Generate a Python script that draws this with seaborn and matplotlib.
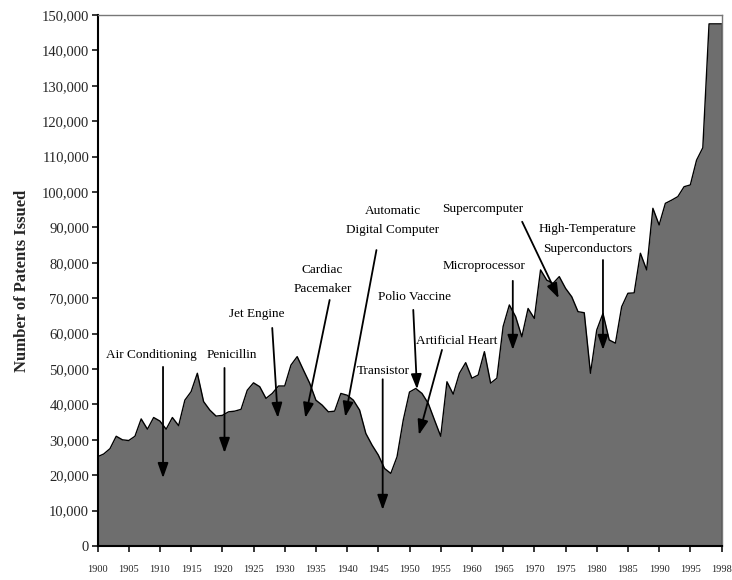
import matplotlib
matplotlib.use("Agg")
import matplotlib.pyplot as plt
import seaborn as sns
from matplotlib.ticker import StrMethodFormatter

# Patents issued per year
years = list(range(1900, 2001))
patents = [
    25200, 26000, 27500, 31000, 30000, 29800, 31000, 35900, 33000, 36300,
    35300, 33000, 36300, 34000, 41200, 43600, 48800, 40800, 38400, 36700,
    36900, 37900, 38100, 38600, 44000, 46100, 45000, 41700, 43100, 45200,
    45200, 51100, 53500, 49700, 46000, 41200, 39800, 37900, 38100, 43100,
    42600, 41200, 38400, 31800, 28500, 25700, 21900, 20500, 25200, 35600,
    43500, 44500, 43100, 40300, 35600, 31000, 46400, 42900, 48800, 51800,
    47400, 48300, 54900, 46000, 47400, 62000, 68100, 64800, 59100, 67100,
    64300, 78000, 75100, 74200, 76100, 72800, 70400, 66200, 65900, 48800,
    61000, 65700, 58200, 57300, 67600, 71400, 71500, 82700, 78000, 95400,
    90700, 96800, 97700, 98700, 101500, 102000, 109000, 112500, 147500, 147500,
    147500,
]

tick_years = list(range(1900, 2001, 5))
tick_labels = [str(y) for y in range(1900, 1996, 5)] + ["1998"]

# inventions: label, text position, arrow start, arrow tip
inventions = [
    ("Air Conditioning", (1908.65, 53950), (1910.5, 50600), (1910.5, 19200)),
    ("Penicillin", (1921.6, 54000), (1920.35, 50300), (1920.35, 26300)),
    ("Jet Engine", (1925.5, 65500), (1928.0, 61600), (1928.9, 36200)),
    ("Cardiac\nPacemaker", (1936.05, 75400), (1937.2, 69500), (1933.3, 36200)),
    ("Automatic\nDigital Computer", (1947.3, 91900), (1944.7, 83600), (1939.7, 36500)),
    ("Transistor", (1945.8, 49400), (1945.7, 47100), (1945.7, 10200)),
    ("Polio Vaccine", (1950.8, 70300), (1950.6, 66700), (1951.2, 44300)),
    ("Artificial Heart", (1957.5, 57800), (1955.2, 55400), (1951.5, 31400)),
    ("Microprocessor", (1962.0, 79100), (1966.55, 74900), (1966.55, 55400)),
    ("Supercomputer", (1961.7, 95200), (1968.05, 91600), (1973.9, 70000)),
    ("High-Temperature\nSuperconductors", (1978.5, 86700), (1981.0, 80800), (1981.0, 55400)),
]

sns.set_style("ticks")
plt.rcParams['font.family'] = ['Liberation Serif', 'DejaVu Serif']

fig = plt.figure(figsize=(7.32, 5.8), dpi=100)
ax = fig.add_axes([0.1332, 0.0586, 0.8525, 0.9155])

ax.fill_between(years, patents, color='#6e6e6e', lw=0)
sns.lineplot(x=years, y=patents, ax=ax, color='black', lw=1.0)
ax.vlines(years[-1], 0, patents[-1], color='black', lw=1.0)

ax.set_xlim(1900, 2000)
ax.set_ylim(0, 150000)
ax.set_yticks(range(0, 150001, 10000))
ax.yaxis.set_major_formatter(StrMethodFormatter('{x:,.0f}'))
ax.set_xticks(tick_years)
ax.set_xticklabels(tick_labels)

ax.tick_params(axis='y', labelsize=10.5, length=4, width=1.3, pad=2, direction='out')
ax.tick_params(axis='x', labelsize=7.5, length=4.5, width=1.3, pad=9, direction='out')

for side in ['left', 'bottom']:
    ax.spines[side].set_color('black')
    ax.spines[side].set_linewidth(1.5)
for side in ['top', 'right']:
    ax.spines[side].set_visible(True)
    ax.spines[side].set_color('#777777')
    ax.spines[side].set_linewidth(1.0)

ax.set_ylabel("Number of Patents Issued", fontsize=12, fontweight='bold')
ax.yaxis.set_label_coords(-0.108, 0.5)
ax.set_xlabel("")

for label, txt, start, tip in inventions:
    ax.text(txt[0], txt[1], label, ha='center', va='center', fontsize=9.5,
            linespacing=1.8, color='black')
    ax.annotate('', xy=tip, xytext=start,
                arrowprops=dict(arrowstyle='-|>,head_length=0.9,head_width=0.32',
                                color='black', lw=1.3, shrinkA=0, shrinkB=0))

plt.savefig("out.png", dpi=100)
